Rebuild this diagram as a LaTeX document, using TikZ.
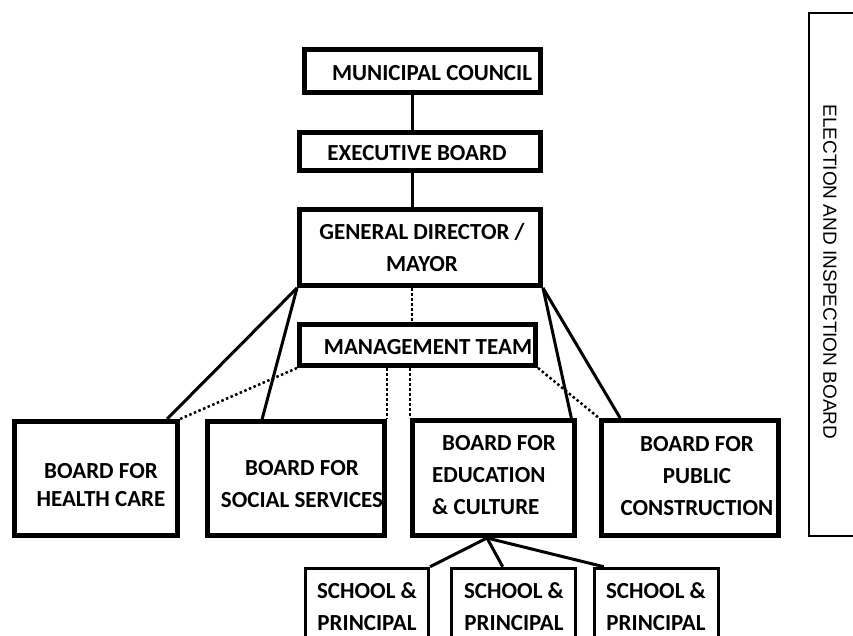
\documentclass[tikz,border=0pt]{standalone}
\usepackage{fontspec}
\setmainfont{Carlito}
\newfontfamily\lsans{Liberation Sans}
\usetikzlibrary{calc}
\begin{document}
\begin{tikzpicture}[x=1pt,y=-1pt,
  box/.style={draw,line width=5pt,inner sep=0pt},
  sbox/.style={draw,line width=3pt,inner sep=0pt,minimum width=123pt,minimum height=91.5pt},
  lbl/.style={font=\fontsize{23}{32}\selectfont\bfseries,align=center,inner sep=0pt},
  conn/.style={line width=3pt},
  dots/.style={line width=2.5pt,dash pattern=on 2.5pt off 2.5pt}]
\useasboundingbox (0,0) rectangle (853,636);
\clip (0,0) rectangle (853,636);
\fill[white] (0,0) rectangle (853,636);
% boxes
\node[box,minimum width=236pt,minimum height=43pt] (mc) at (422.5,71) {};
\node[box,minimum width=241pt,minimum height=38pt] (eb) at (420,151.5) {};
\node[box,minimum width=241pt,minimum height=76pt] (gd) at (420,247.5) {};
\node[box,minimum width=236pt,minimum height=41pt] (mt) at (417.5,345) {};
\node[box,minimum width=163pt,minimum height=114pt] (hc) at (96,478.5) {};
\node[box,minimum width=177pt,minimum height=114pt] (ss) at (296,478.5) {};
\node[box,minimum width=162pt,minimum height=115pt] (ed) at (493.5,478) {};
\node[box,minimum width=177pt,minimum height=115pt] (pc) at (690,478) {};
\node[sbox] (s1) at (367,614) {};
\node[sbox,minimum width=124pt] (s2) at (513.5,614) {};
\node[sbox,minimum width=124pt] (s3) at (656.5,614) {};
\node[draw,line width=2pt,minimum width=60pt,minimum height=523pt] (eib) at (839,274.5) {};
% labels
\node[lbl] (mcl) at (432,73) {MUNICIPAL COUNCIL};
\node[lbl] (ebl) at (417,153) {EXECUTIVE BOARD};
\node[lbl] (gdl) at (422,248) {GENERAL DIRECTOR /\\MAYOR};
\node[lbl] (mtl) at (428,347) {MANAGEMENT TEAM};
\node[lbl,font=\fontsize{23}{28}\selectfont\bfseries] (hcl) at (101,485) {BOARD FOR\\HEALTH CARE};
\node[lbl] (ssl) at (302,484) {BOARD FOR\\SOCIAL SERVICES};
\node[lbl,align=left] (edl) at (494,475) {\hspace*{10pt}BOARD FOR\\EDUCATION\\\& CULTURE};
\node[lbl] (pcl) at (697,476) {BOARD FOR\\PUBLIC\\CONSTRUCTION};
\node[lbl] (s1l) at (367,607) {SCHOOL \&\\PRINCIPAL};
\node[lbl] (s2l) at (514,607) {SCHOOL \&\\PRINCIPAL};
\node[lbl] (s3l) at (656,607) {SCHOOL \&\\PRINCIPAL};
\node[rotate=-90,inner sep=0pt,font=\lsans\fontsize{19}{19}\selectfont] (eibl) at (830,272) {ELECTION AND INSPECTION BOARD};
% connectors
\coordinate (spine) at (412,0);
\draw[conn] (mc.south -| spine) -- (eb.north -| spine);
\draw[conn] (eb.south -| spine) -- (gd.north -| spine);
\draw[dots] (gd.south -| spine) -- (mt.north -| spine);
\draw[conn] (gd.south west) -- ($(hc.north west)!0.923!(hc.north east)$);
\draw[conn] (gd.south west) -- ($(ss.north west)!0.314!(ss.north east)$);
\draw[conn] (gd.south east) -- ($(ed.north west)!0.966!(ed.north east)$);
\draw[conn] (gd.south east) -- ($(pc.north west)!0.116!(pc.north east)$);
\draw[dots] (mt.south west) -- (hc.north east);
\draw[dots] (mt.south east) -- (pc.north west);
\draw[dots] (ss.north east |- mt.south) -- (ss.north east);
\draw[dots] (ed.north west |- mt.south) -- (ed.north west);
\coordinate (edb) at ($(ed.south)+(-6.5,0)$);
\draw[conn] (edb) -- (s1.north east);
\draw[conn] (edb) -- ($(s2.north west)!0.415!(s2.north east)$);
\draw[conn] (edb) -- ($(s3.north west)!0.085!(s3.north east)$);
\end{tikzpicture}
\end{document}
